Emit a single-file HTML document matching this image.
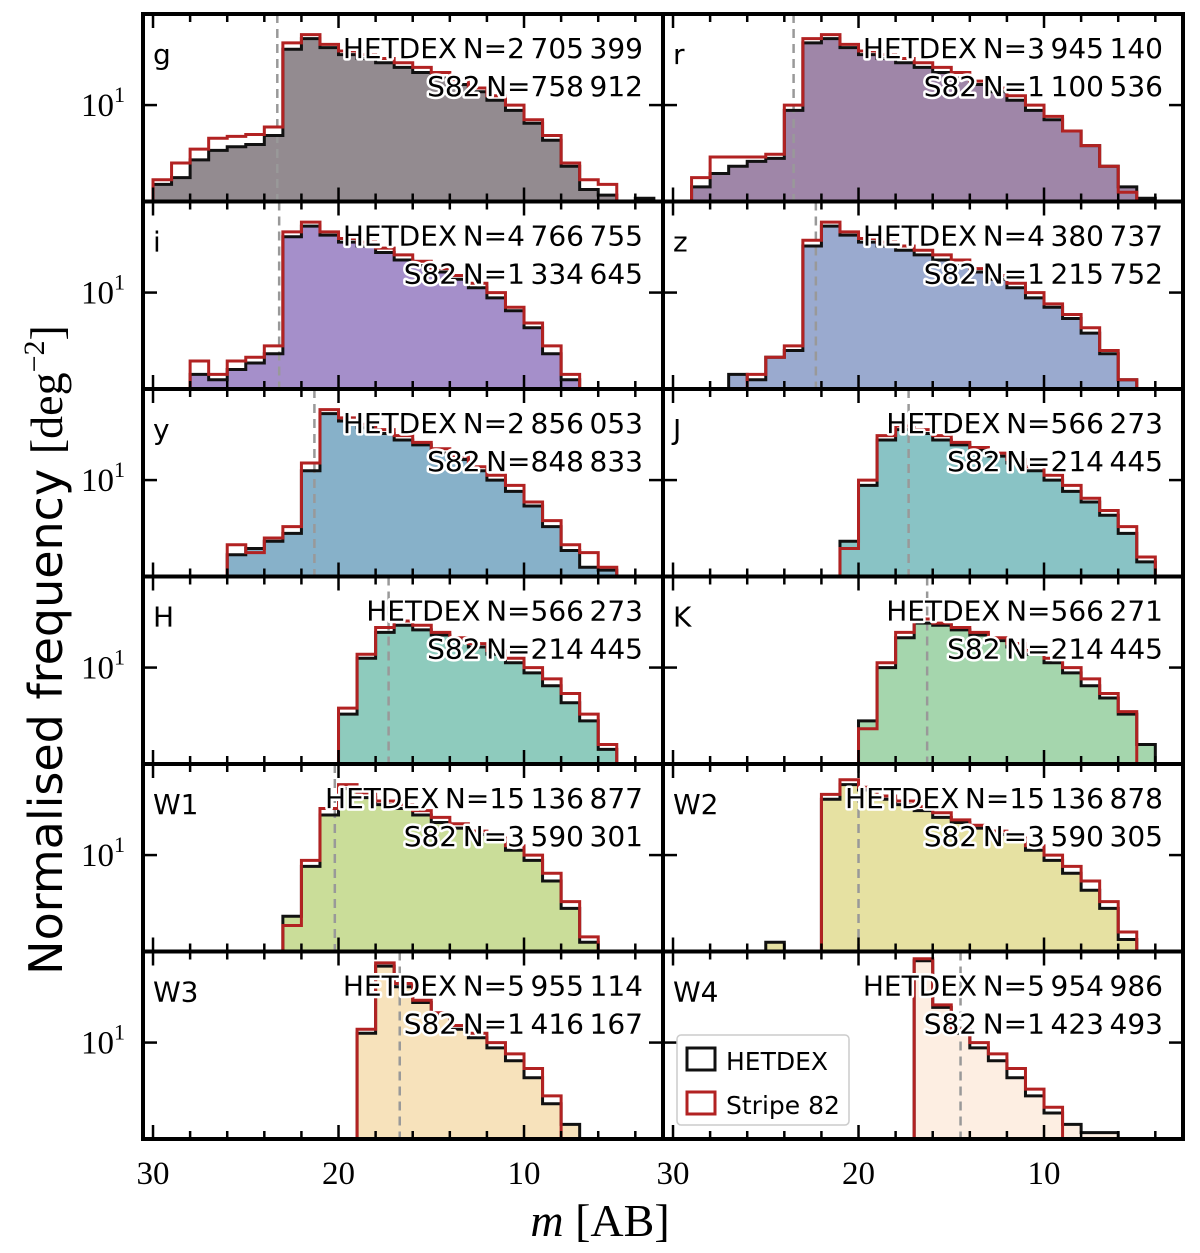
<!DOCTYPE html>
<html><head><meta charset="utf-8"><style>
body{margin:0;background:#fff;}
svg{display:block;}
.ann{font-family:"DejaVu Sans","Liberation Sans",sans-serif;font-size:28px;fill:#000;stroke:#fff;stroke-width:5px;paint-order:stroke;stroke-linejoin:round;}
.ser{font-family:"Liberation Serif","DejaVu Serif",serif;}
</style></head><body>
<svg id="chart" width="1200" height="1253" viewBox="0 0 1200 1253" xmlns="http://www.w3.org/2000/svg"></svg>
<script>
// bins: each bin spans [31-i, 30-i] magnitudes, i = 0..27 ; 0 = empty
const bands = ['g','r','i','z','y','J','H','K','W1','W2','W3','W4'];
const hetdexN = ['2 705 399','3 945 140','4 766 755','4 380 737','2 856 053','566 273','566 273','566 271','15 136 877','15 136 878','5 955 114','5 954 986'];
const s82N = ['758 912','1 100 536','1 334 645','1 215 752','848 833','214 445','214 445','214 445','3 590 301','3 590 305','1 416 167','1 423 493'];
const cutMag = [23.3,23.5,23.2,22.3,21.3,17.3,17.3,16.3,20.2,20.0,16.7,14.5];
const hetdex = [
 [0,2.1,2.4,3.4,4.1,4.4,4.6,5.5,30,37,31,27,25,23,21,19,17,15,13,11,9,7,5,3,1.9,1.7,0,1.6],
 [0,0,2.0,2.6,3.0,3.3,3.5,9,34,37,31,27,25,23,21,19,17,15,13,11,9,7.5,6,4.5,3,2,1.6,0],
 [0,0,0,2.0,1.8,2.2,2.5,3,30,37,31,27,25,22,19,17,15,13,11,9,7,5,3,1.8,0,0,0,0],
 [0,0,0,0,2.0,1.8,2.8,3.2,25,37,31,27,25,23,21,19,17,15,13,11,9,7.5,6,4.5,3,1.8,0,0],
 [0,0,0,0,0,2.3,2.6,3,3.5,12,37,32,28,25,22,20,17,15,12,10,8,6,4,2.5,1.8,1.7,0,0],
 [0,0,0,0,0,0,0,0,0,0,3,9,22,27,25,22,20,18,16,14,12,10,8,6.5,5,3.5,2,0],
 [0,0,0,0,0,0,0,0,0,0,0,4,12,20,23,21,19,17,15,13,11,9,7,5,3.5,2,0,0],
 [0,0,0,0,0,0,0,0,0,0,0,3.5,10,18,24,23,21,19,17,15,13,11,9,7,5.5,4,2.2,0],
 [0,0,0,0,0,0,0,0,3,8,22,37,31,27,25,22,19,17,15,13,11,9,6,3.5,1.8,0,0,0],
 [0,0,0,0,0,0,1.8,0,0,30,40,36,30,27,24,21,19,17,15,13,11,9,7,5,3.5,1.9,0,0],
 [0,0,0,0,0,0,0,0,0,0,0,0,12,45,30,22,17,13,11,9,7,5,3,2,0,0,0,0],
 [0,0,0,0,0,0,0,0,0,0,0,0,0,0,50,20,12,9,7,5,3.5,2.5,2,1.7,1.7,0,0,0]
];
const stripe82 = [
 [0,2.3,3.2,4.2,5.2,5.4,5.6,6.5,34,40,33,29,27,25,23,21,19,16.5,14,12,10,7.5,5.5,3.2,2.3,2.1,0,0],
 [0,0,2.4,3.6,3.6,3.6,3.8,10,37,40,33,29,27,25,23,21,19,16,14,12,10,8,6,4.5,3,1.8,0,0],
 [0,0,0,2.6,2.0,2.6,2.8,3.5,33,40,33,29,27,24,21,18.5,16,14,12,10,7.5,5.5,3.5,2,0,0,0,0],
 [0,0,0,0,0,2.0,2.8,3.5,28,40,33,29,27,25,23,21,19,16,14,12,10,8,6.5,5,3.2,1.8,0,0],
 [0,0,0,0,0,2.8,2.4,3.2,4,14,40,34,30,27,24,21,18.5,16,13,11,9,6.5,4.5,2.8,2.4,1.8,0,0],
 [0,0,0,0,0,0,0,0,0,0,2.6,10,24,29,27,24,21,19,17,15,13,11,9,7,5.5,4,2.2,0],
 [0,0,0,0,0,0,0,0,0,0,0,4.5,13,22,25,23,20,18,16,14,12,10,8,6,4,2.2,0,0],
 [0,0,0,0,0,0,0,0,0,0,0,3,11,20,26,24,22,20,18,16,14,12,10,8,6,4.2,0,0],
 [0,0,0,0,0,0,0,0,2.5,9,25,40,34,29,27,24,21,18.5,16,14,12,10,7,4,2,0,0,0],
 [0,0,0,0,0,0,0,0,0,33,44,38,32,29,26,23,20,18,16,14,12,10,8,6,4,2.2,0,0],
 [0,0,0,0,0,0,0,0,0,0,0,0,13,48,32,23,18,14,12,10,8,6,3.5,0,0,0,0,0],
 [0,0,0,0,0,0,0,0,0,0,0,0,0,0,52,21,13,10,8,6,4,2.8,0,0,0,0,0,0]
];
const fills = ['#938b90','#9f86a8','#a58fca','#9aaacf','#87b1c9','#89c3c5','#8ecbbd','#a5d6ad','#cadd99','#e6e1a2','#f7e2bb','#fdeee2'];
const xTicks = [30,20,10];

const NS='http://www.w3.org/2000/svg';
const svg=document.getElementById('chart');
function mk(t,a,p){const e=document.createElementNS(NS,t);for(const k in a)e.setAttribute(k,a[k]);(p||svg).appendChild(e);return e;}
const X0=143,PW=520,Y0=14,PH=187.5;
const MMAX=30.54,PXM=18.55;
const LMAX=Math.log10(60),LMIN=Math.log10(1.5);
function xs(c,m){return X0+c*PW+(MMAX-m)*PXM;}
function ys(r,v){const top=Y0+r*PH;if(v<=0)return top+PH+5;return top+(LMAX-Math.log10(v))/(LMAX-LMIN)*PH;}
function stepPath(c,r,vals){
  const base=Y0+r*PH+PH+5;let d='M'+xs(c,31)+','+base;
  vals.forEach((v,i)=>{const y=ys(r,v);d+=' L'+xs(c,31-i)+','+y+' L'+xs(c,30-i)+','+y;});
  d+=' L'+xs(c,31-vals.length)+','+base+' Z';return d;
}
function thin(s){return s.replace(/ /g,'\u2009');}
const defs=mk('defs',{});
for(let p=0;p<12;p++){
  const c=p%2,r=Math.floor(p/2);
  const px=X0+c*PW,py=Y0+r*PH;
  const cp=mk('clipPath',{id:'cp'+p},defs);mk('rect',{x:px,y:py,width:PW,height:PH},cp);
  const g=mk('g',{'clip-path':'url(#cp'+p+')'});
  
  
  const f=mk('path',{d:stepPath(c,r,hetdex[p]),fill:fills[p],stroke:'none'},g);
  
  
  const hx=mk('line',{x1:xs(c,cutMag[p]),x2:xs(c,cutMag[p]),y1:py,y2:py+PH,stroke:'#999','stroke-width':2.5,'stroke-dasharray':'9,6'},g);
  
  
  const b=mk('path',{d:stepPath(c,r,hetdex[p]),fill:'none',stroke:'#111','stroke-width':3},g);
  
  
  const s=mk('path',{d:stepPath(c,r,stripe82[p]),fill:'none',stroke:'#b22222','stroke-width':3},g);
  
  
  for(let m=30;m>=2;m-=2){
    const x=xs(c,m);const L=(m%10===0)?14:8;
    mk('line',{x1:x,x2:x,y1:py+PH,y2:py+PH-L,stroke:'#000','stroke-width':2.5},g);
    mk('line',{x1:x,x2:x,y1:py,y2:py+L,stroke:'#000','stroke-width':2.5},g);
  }
  const y10=ys(r,10);
  mk('line',{x1:px,x2:px+14,y1:y10,y2:y10,stroke:'#000','stroke-width':2.5},g);
  mk('line',{x1:px+PW,x2:px+PW-14,y1:y10,y2:y10,stroke:'#000','stroke-width':2.5},g);
  const t1=mk('text',{x:px+PW-20,y:py+44,'text-anchor':'end',class:'ann'});t1.textContent=thin('HETDEX N='+hetdexN[p]);
  
  const t2=mk('text',{x:px+PW-20,y:py+82,'text-anchor':'end',class:'ann'});t2.textContent=thin('S82 N='+s82N[p]);
  
  const bl=mk('text',{x:px+10,y:py+50,class:'ann','font-size':'32px'});bl.textContent=bands[p];
  
  if(c===0){
    const yl=mk('text',{x:px-18,y:y10+11,'text-anchor':'end',class:'ser','font-size':'33px'});
    yl.innerHTML='10<tspan dy="-14" font-size="22">1</tspan>';
    
  }
  mk('rect',{x:px,y:py,width:PW,height:PH,fill:'none',stroke:'#000','stroke-width':4});
}
for(let c=0;c<2;c++)xTicks.forEach(m=>{
  const t=mk('text',{x:xs(c,m),y:1184,'text-anchor':'middle',class:'ser','font-size':'33px'});t.textContent=m;
  
});
const xl=mk('text',{x:600,y:1236,'text-anchor':'middle',class:'ser','font-size':'46px'});
xl.innerHTML='<tspan font-style="italic">m</tspan> [AB]';

const yt=mk('text',{x:62,y:650,'text-anchor':'middle','font-family':'DejaVu Sans, Liberation Sans, sans-serif','font-size':'46px',transform:'rotate(-90 62 650)'});
yt.innerHTML='Normalised frequency <tspan font-family="Liberation Serif, serif">[deg<tspan dy="-18" font-size="30">−2</tspan><tspan dy="18">]</tspan></tspan>';

const lg=mk('g',{});

mk('rect',{x:677,y:1035,width:172,height:90,fill:'#fff',stroke:'#ccc','stroke-width':1.5,rx:4},lg);
mk('rect',{x:687,y:1048,width:28,height:22,fill:'#fff',stroke:'#111','stroke-width':3},lg);
mk('rect',{x:687,y:1092,width:28,height:22,fill:'#fff',stroke:'#b22222','stroke-width':3},lg);
const l1=mk('text',{x:726,y:1070,'font-family':'DejaVu Sans, sans-serif','font-size':'25px'},lg);l1.textContent='HETDEX';
const l2=mk('text',{x:726,y:1114,'font-family':'DejaVu Sans, sans-serif','font-size':'25px'},lg);l2.textContent='Stripe 82';
</script>
</body></html>
